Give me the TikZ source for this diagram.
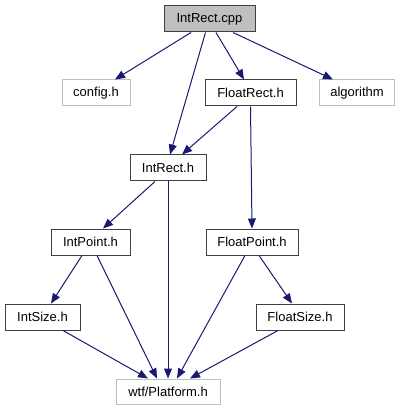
\documentclass[tikz,border=0pt]{standalone}
\usepackage{fontspec}
\setmainfont{Liberation Sans}
\usetikzlibrary{arrows.meta}
\definecolor{edgeblue}{HTML}{191970}
\definecolor{lightframe}{HTML}{BFBFBF}
\definecolor{darkframe}{HTML}{404040}
\tikzset{
  filebox/.style={draw=darkframe, line width=1pt, rectangle, inner sep=0pt, minimum height=26pt, font=\fontsize{13}{15}\selectfont},
  extbox/.style={filebox, draw=lightframe},
  rootbox/.style={filebox, fill=lightframe},
  dep/.style={draw=edgeblue, line width=1pt, -{Triangle[length=10pt,width=8pt]}}
}
\begin{document}
\begin{tikzpicture}[x=1pt,y=-1pt]
\useasboundingbox (0,0) rectangle (400,411);
\node[rootbox, minimum width=91pt] (cpp) at (209.5,19) {IntRect.cpp};
\node[extbox, minimum width=68pt] (config) at (96,93) {config.h};
\node[filebox, minimum width=91pt] (floatrect) at (250.5,93) {FloatRect.h};
\node[extbox, minimum width=75pt] (algorithm) at (357,93) {algorithm};
\node[filebox, minimum width=76pt] (intrecth) at (168,168) {IntRect.h};
\node[filebox, minimum width=79pt] (intpoint) at (90.5,242) {IntPoint.h};
\node[filebox, minimum width=92pt] (floatpoint) at (252,242) {FloatPoint.h};
\node[filebox, minimum width=75pt] (intsize) at (42.5,317) {IntSize.h};
\node[filebox, minimum width=88pt] (floatsize) at (300,317) {FloatSize.h};
\node[extbox, minimum width=104pt, minimum height=25pt] (platform) at (168,391.5) {wtf/Platform.h};

\draw[dep] ([xshift=-18.5pt]cpp.south) -- ([xshift=19pt]config.north);
\draw[dep] ([xshift=-4pt]cpp.south) -- ([xshift=2pt]intrecth.north);
\draw[dep] ([xshift=6.5pt]cpp.south) -- ([xshift=-6.5pt]floatrect.north);
\draw[dep] ([xshift=23.5pt]cpp.south) -- ([xshift=-24pt]algorithm.north);
\draw[dep] ([xshift=-13.5pt]floatrect.south) -- ([xshift=14pt]intrecth.north);
\draw[dep] ([xshift=0pt]floatrect.south) -- ([xshift=0pt]floatpoint.north);
\draw[dep] ([xshift=-13pt]intrecth.south) -- ([xshift=12.5pt]intpoint.north);
\draw[dep] (intrecth.south) -- (platform.north);
\draw[dep] ([xshift=-8.5pt]intpoint.south) -- ([xshift=8.5pt]intsize.north);
\draw[dep] ([xshift=6.5pt]intpoint.south) -- ([xshift=-11pt]platform.north);
\draw[dep] ([xshift=-7pt]floatpoint.south) -- ([xshift=9pt]platform.north);
\draw[dep] ([xshift=7pt]floatpoint.south) -- ([xshift=-8pt]floatsize.north);
\draw[dep] ([xshift=20.5pt]intsize.south) -- ([xshift=-20pt]platform.north);
\draw[dep] ([xshift=-22pt]floatsize.south) -- ([xshift=22pt]platform.north);
\end{tikzpicture}
\end{document}
